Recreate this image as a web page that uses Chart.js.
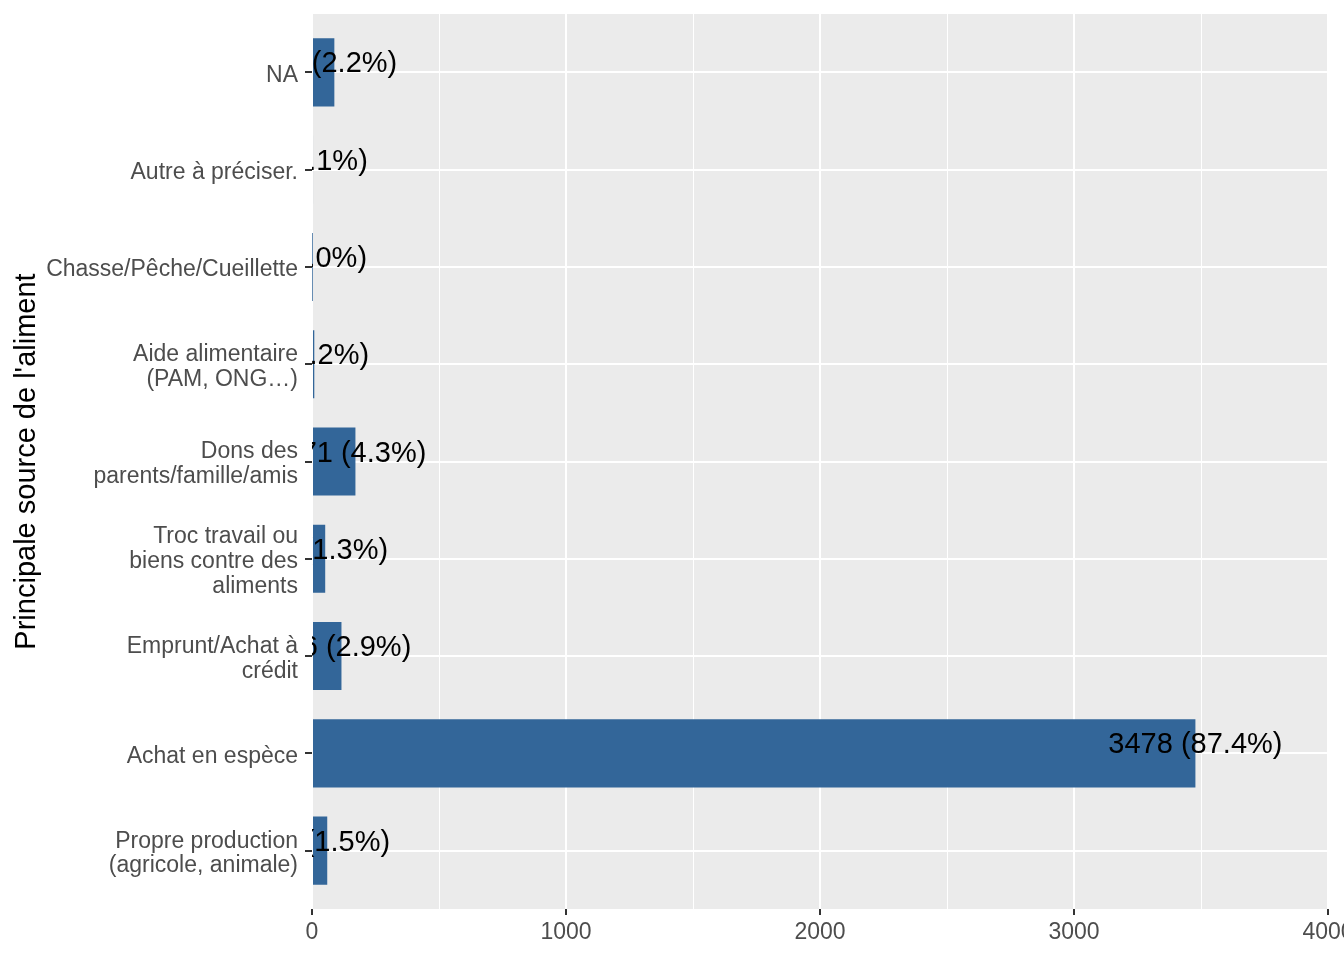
<!DOCTYPE html>
<html>
<head>
<meta charset="utf-8">
<script src="https://cdn.jsdelivr.net/npm/chart.js@4.4.1/dist/chart.umd.min.js"></script>
<style>
  html, body { margin: 0; padding: 0; background: #fff; overflow: hidden; }
  canvas { display: block; }
</style>
</head>
<body>
<canvas id="sourceChart" width="1344" height="960"></canvas>
<script>
// Données (ordre de haut en bas)
const categories = [
  'NA',
  'Autre à préciser.',
  'Chasse/Pêche/Cueillette',
  ['Aide alimentaire', '(PAM, ONG…)'],
  ['Dons des', 'parents/famille/amis'],
  ['Troc travail ou', 'biens contre des', 'aliments'],
  ['Emprunt/Achat à', 'crédit'],
  'Achat en espèce',
  ['Propre production', '(agricole, animale)']
];
const counts = [88, 4, 1, 9, 171, 52, 116, 3478, 60];
const xMin = 0;
const xMax = 4000;
const xStep = 500;
const axisTitle = "Principale source de l'aliment";

const total = counts.reduce((a, b) => a + b, 0);
const FONT = '"Liberation Sans", Arial, sans-serif';

// Fond gris du panneau
const panelBg = {
  id: 'panelBg',
  beforeDraw(chart) {
    const { ctx, chartArea: a } = chart;
    ctx.save();
    ctx.fillStyle = '#EBEBEB';
    ctx.fillRect(a.left, a.top, a.right - a.left, a.bottom - a.top);
    ctx.restore();
  }
};

// Étiquettes "n (x%)" centrées sur la valeur, coupées au panneau
const barLabels = {
  id: 'barLabels',
  afterDatasetsDraw(chart) {
    const { ctx, chartArea: a, scales } = chart;
    const meta = chart.getDatasetMeta(0);
    ctx.save();
    ctx.beginPath();
    ctx.rect(a.left, a.top, a.right - a.left, a.bottom - a.top);
    ctx.clip();
    ctx.fillStyle = '#000';
    ctx.font = '29px ' + FONT;
    ctx.textAlign = 'center';
    ctx.textBaseline = 'middle';
    meta.data.forEach((bar, i) => {
      const x = scales.x.getPixelForValue(counts[i]);
      const pct = (counts[i] / total * 100).toFixed(1);
      ctx.fillText(`${counts[i]} (${pct}%)`, x, bar.y - 8);
    });
    ctx.restore();
  }
};

const ctx = document.getElementById('sourceChart').getContext('2d');
new Chart(ctx, {
  type: 'bar',
  data: {
    datasets: [{
      data: counts.map((c, i) => ({ x: c, y: i })),
      backgroundColor: '#336699',
      borderWidth: 0,
      barPercentage: 0.7,
      categoryPercentage: 1
    }]
  },
  options: {
    indexAxis: 'y',
    responsive: false,
    animation: false,
    devicePixelRatio: 1,
    layout: { padding: { top: 14, right: 16, left: 0, bottom: 0 } },
    plugins: { legend: { display: false }, tooltip: { enabled: false } },
    scales: {
      x: {
        type: 'linear',
        min: xMin,
        max: xMax,
        border: { display: false },
        grid: {
          color: '#FFFFFF',
          lineWidth: c => (c.tick && c.tick.value % 1000 === 0) ? 2 : 1,
          tickColor: c => (c.tick && c.tick.value % 1000 === 0) ? '#333333' : 'rgba(0,0,0,0)',
          tickLength: 6,
          tickWidth: 2
        },
        ticks: {
          stepSize: xStep,
          autoSkip: false,
          maxRotation: 0,
          padding: 4,
          color: '#4D4D4D',
          font: { family: FONT, size: 23 },
          callback: v => v % 1000 === 0 ? String(v) : ''
        },
        afterFit: s => { s.height = 51; s.paddingLeft = 0; s.paddingRight = 0; }
      },
      y: {
        type: 'linear',
        reverse: true,
        offset: false,
        min: -0.6,
        max: categories.length - 1 + 0.6,
        border: { display: false },
        afterBuildTicks: s => { s.ticks = categories.map((c, i) => ({ value: i })); },
        grid: {
          offset: false,
          color: '#FFFFFF',
          lineWidth: 2,
          tickColor: '#333333',
          tickLength: 7,
          tickWidth: 2
        },
        ticks: {
          autoSkip: false,
          padding: 7,
          labelOffset: 3,
          color: '#4D4D4D',
          font: { family: FONT, size: 23, lineHeight: 1.08 },
          callback: v => categories[v]
        },
        title: {
          display: true,
          text: axisTitle,
          color: '#000',
          font: { family: FONT, size: 29 },
          padding: { top: 10, bottom: 0 }
        },
        afterFit: s => { s.width = 312; s.paddingTop = 0; s.paddingBottom = 0; }
      }
    }
  },
  plugins: [panelBg, barLabels]
});
</script>
</body>
</html>
